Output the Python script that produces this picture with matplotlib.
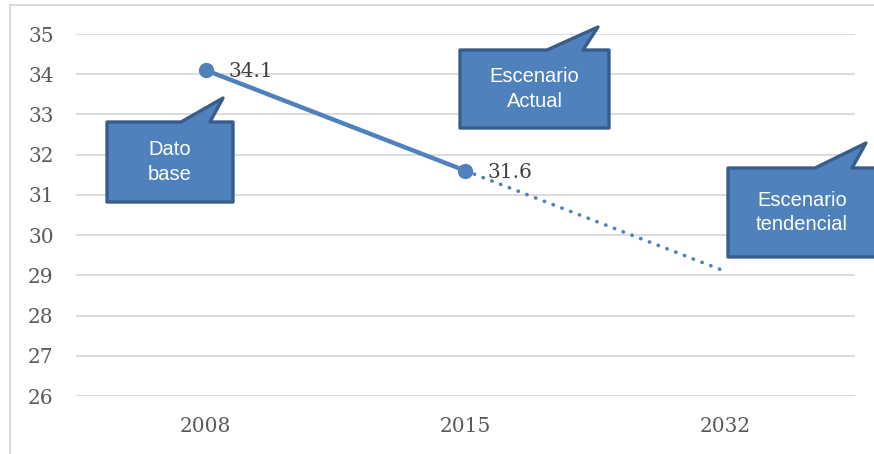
import matplotlib
matplotlib.use("Agg")
import matplotlib.pyplot as plt
from matplotlib.patches import Polygon
from matplotlib.lines import Line2D

# Data
years = ["2008", "2015", "2032"]
actual_values = [34.1, 31.6]
trend_values = [31.6, 29.1]
label_values = [34.1, 31.6]
y_ticks = list(range(26, 36))

W, H = 874, 454
fig = plt.figure(figsize=(W / 100, H / 100), dpi=100)
fig.patch.set_facecolor("white")

def fx(x):
    return x / W

def fy(y):
    return 1 - y / H

ax = fig.add_axes([fx(76), fy(396), (855 - 76) / W, (396 - 34) / H])
ax.set_facecolor("white")

blue = "#4F81BD"
x_pos = list(range(len(years)))

ax.plot(x_pos[:2], actual_values, color=blue, lw=3.2, solid_capstyle="round",
        marker="o", markersize=10, zorder=4)
ax.plot(x_pos[1:], trend_values, color=blue, lw=2.6,
        linestyle=(0, (0.1, 2.5)), dash_capstyle="round", zorder=3)

for xi, v in zip(x_pos[:2], label_values):
    ax.annotate(f"{v:.1f}", (xi, v), xytext=(16, -1), textcoords="offset points",
                ha="left", va="center", fontsize=14.5, family="DejaVu Serif",
                color="#404040", zorder=5)

ax.set_xlim(-0.5, 2.5)
ax.set_ylim(26, 35)
ax.set_yticks(y_ticks)
ax.set_xticks(x_pos)
ax.set_xticklabels(years)
ax.grid(axis="y", color="#D9D9D9", lw=1.3)
ax.set_axisbelow(True)
for s in ax.spines.values():
    s.set_visible(False)
ax.tick_params(length=0, labelsize=14.5, labelcolor="#595959", pad=16)
ax.tick_params(axis="x", pad=15)
for lab in ax.get_xticklabels() + ax.get_yticklabels():
    lab.set_family("DejaVu Serif")

# chart area border (partially visible)
fig.add_artist(Line2D([fx(10), fx(10)], [fy(5), 0], transform=fig.transFigure,
                      color="#D9D9D9", lw=1.5))
fig.add_artist(Line2D([fx(10), 1], [fy(5), fy(5)], transform=fig.transFigure,
                      color="#D9D9D9", lw=1.5))

def callout(x0, y0, x1, y1, b1, b2, tip, text):
    pts = [(x0, y0), (b1, y0), tip, (b2, y0), (x1, y0), (x1, y1), (x0, y1)]
    poly = Polygon([(fx(px), fy(py)) for px, py in pts], closed=True,
                   transform=fig.transFigure, facecolor=blue,
                   edgecolor="#385D8A", lw=2.4, joinstyle="round", zorder=6)
    fig.add_artist(poly)
    fig.text(fx((x0 + x1) / 2), fy((y0 + y1) / 2), text, ha="center", va="center",
             fontsize=14.5, family="Liberation Sans", color="white",
             linespacing=1.35, zorder=7)

callout(107, 122, 233, 202, 181, 210, (223, 98), "Dato\nbase")
callout(460, 50, 609, 128, 547, 583, (598, 27), "Escenario\nActual")
callout(728, 168, 876, 257, 815, 852, (866, 143), "Escenario\ntendencial")

fig.savefig("out.png", dpi=100, facecolor="white")
